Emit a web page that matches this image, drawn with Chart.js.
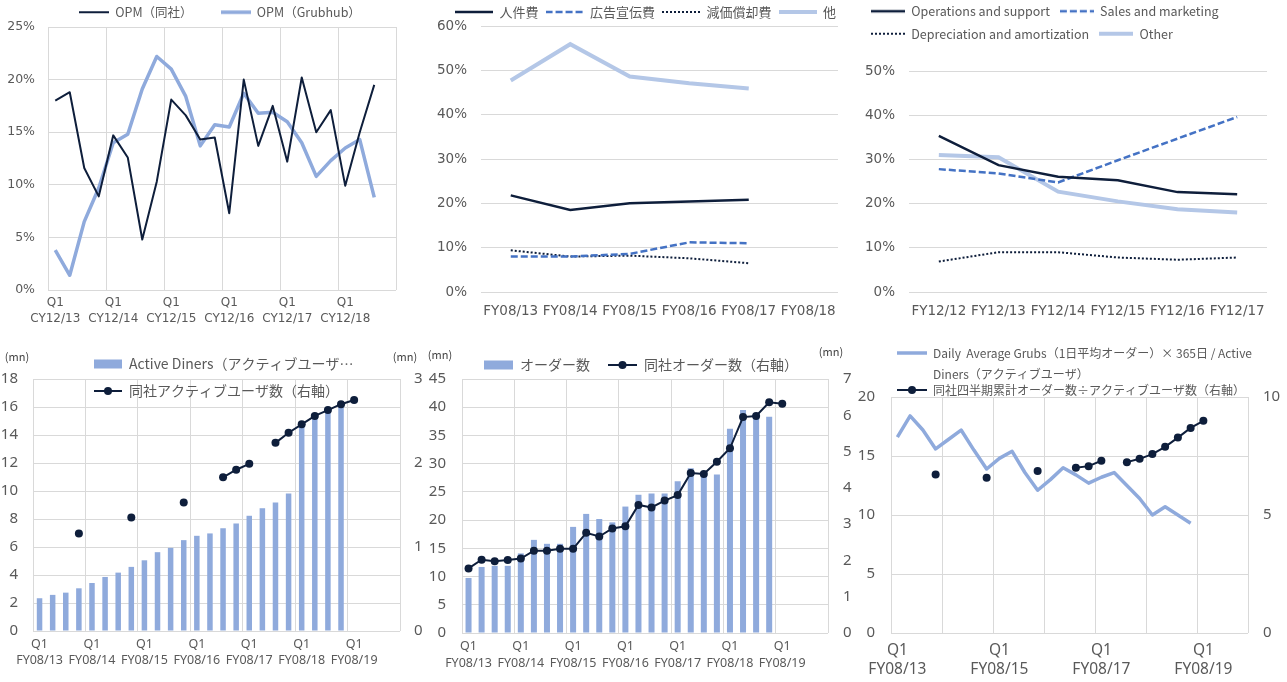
<!DOCTYPE html>
<html>
<head>
<meta charset="utf-8">
<script src="https://cdn.jsdelivr.net/npm/chart.js@4.4.1/dist/chart.umd.min.js"></script>
<style>
  html, body { margin: 0; padding: 0; background: #fff; }
  body { width: 1287px; height: 682px; position: relative; overflow: hidden; }
  canvas { position: absolute; }
</style>
</head>
<body>
<canvas id="c1" width="420" height="340" style="left:0px;top:0px"></canvas>
<canvas id="c2" width="430" height="340" style="left:420px;top:0px"></canvas>
<canvas id="c3" width="437" height="340" style="left:850px;top:0px"></canvas>
<canvas id="c4" width="436" height="342" style="left:0px;top:340px"></canvas>
<canvas id="c5" width="448" height="342" style="left:412px;top:340px"></canvas>
<canvas id="c6" width="459" height="342" style="left:828px;top:340px"></canvas>
<script>
// ---- data ----
const quarters = ['Q1', 'Q2', 'Q3', 'Q4'];
const cyYears = ['CY12/13', 'CY12/14', 'CY12/15', 'CY12/16', 'CY12/17', 'CY12/18'];
const fyYears = ['FY08/13', 'FY08/14', 'FY08/15', 'FY08/16', 'FY08/17', 'FY08/18', 'FY08/19'];
const cyQuarters = cyYears.flatMap(y => quarters.map(q => q + ' ' + y));
const fyQuarters = fyYears.flatMap(y => quarters.map(q => q + ' ' + y));

// OPM (%)
const opmCompany = [18.0, 18.8, 11.6, 8.9, 14.7, 12.6, 4.8, 10.3, 18.1, 16.6, 14.3, 14.5,
  7.3, 20.0, 13.7, 17.5, 12.2, 20.2, 15.0, 17.1, 9.9, 15.0, 19.5];
const opmGrubhub = [3.8, 1.4, 6.5, 9.7, 14.0, 14.8, 19.1, 22.2, 21.0, 18.4, 13.7, 15.7,
  15.5, 18.7, 16.8, 16.9, 16.0, 14.0, 10.8, 12.3, 13.5, 14.3, 8.8];

// company cost ratios (%)
const costYears = ['FY08/13', 'FY08/14', 'FY08/15', 'FY08/16', 'FY08/17', 'FY08/18'];
const personnel = [21.8, 18.5, 20.0, 20.4, 20.8];
const advertising = [8.0, 8.0, 8.6, 11.2, 11.0];
const depreciation = [9.4, 8.0, 8.2, 7.6, 6.5];
const otherCost = [47.7, 55.9, 48.6, 47.1, 45.9];

// Grubhub cost ratios (%)
const ghYears = ['FY12/12', 'FY12/13', 'FY12/14', 'FY12/15', 'FY12/16', 'FY12/17'];
const ghOperations = [35.3, 28.7, 26.1, 25.3, 22.6, 22.1];
const ghSales = [27.8, 26.8, 24.8, 29.8, 34.7, 39.6];
const ghDepreciation = [6.9, 9.0, 9.0, 7.8, 7.3, 7.8];
const ghOther = [31.0, 30.5, 22.7, 20.5, 18.7, 18.0];

// users (mn)
const activeDiners = [2.34, 2.58, 2.74, 3.05, 3.43, 3.86, 4.17, 4.58, 5.05, 5.63, 5.94, 6.49,
  6.8, 6.97, 7.34, 7.68, 8.23, 8.77, 9.18, 9.82, 14.6, 15.4, 15.8, 16.3];
const companyUsers = [null, null, null, 1.16, null, null, null, 1.35, null, null, null, 1.53,
  null, null, 1.83, 1.92, 1.99, null, 2.24, 2.36, 2.46, 2.56, 2.63, 2.70, 2.75];

// orders (mn)
const ghOrders = [9.75, 11.7, 11.9, 11.9, 14.1, 16.5, 15.8, 15.8, 18.8, 21.1, 20.2, 19.6,
  22.4, 24.5, 24.7, 24.7, 26.9, 29.2, 28.4, 28.1, 36.2, 39.5, 38.7, 38.3];
const companyOrders = [1.78, 2.02, 1.98, 2.01, 2.05, 2.27, 2.27, 2.32, 2.32, 2.76, 2.66, 2.88,
  2.94, 3.53, 3.46, 3.65, 3.80, 4.41, 4.38, 4.72, 5.09, 5.95, 5.98, 6.36, 6.32];

// orders per user
const grubsPerDiner = [16.6, 18.4, 17.2, 15.6, 16.4, 17.2, 15.5, 13.9, 14.8, 15.4, 13.6, 12.1,
  13.0, 14.0, 13.4, 12.7, 13.2, 13.6, 12.5, 11.4, 10.0, 10.7, 10.0, 9.3];
const companyFrequency = [null, null, null, 6.72, null, null, null, 6.58, null, null, null, 6.86,
  null, null, 7.0, 7.07, 7.30, null, 7.24, 7.38, 7.58, 7.89, 8.28, 8.69, 8.99];

// ---- styles ----
const NAVY = '#0e1e3b', STEEL = '#8faadc', PALE = '#b4c7e7', BLUE = '#4472c4';
const GRID = '#d9d9d9', TEXT = '#595959';
const TOPFONT = 'DejaVu Sans', BOTFONT = 'Noto Sans', LEGFONT = 'Noto Sans CJK JP';

Chart.defaults.color = TEXT;
Chart.defaults.animation = false;

// legend swatches (Excel style)
function swatch(w, draw) {
  const c = document.createElement('canvas');
  c.width = w; c.height = 14;
  draw(c.getContext('2d'), w, 7);
  return c;
}
function lineSwatch(w, color, lw, dash) {
  return swatch(w, (g, w, cy) => {
    g.strokeStyle = color; g.lineWidth = lw; g.setLineDash(dash || []);
    g.beginPath(); g.moveTo(0, cy); g.lineTo(w, cy); g.stroke();
  });
}
function barSwatch(w, h, color) {
  return swatch(w, (g, w, cy) => { g.fillStyle = color; g.fillRect(0, cy - h / 2, w, h); });
}
function dotSwatch(w, color, lw, r) {
  return swatch(w, (g, w, cy) => {
    g.strokeStyle = color; g.lineWidth = lw;
    g.beginPath(); g.moveTo(0, cy); g.lineTo(w, cy); g.stroke();
    g.fillStyle = color; g.beginPath(); g.arc(w / 2, cy, r, 0, Math.PI * 2); g.fill();
  });
}

// move the legend where Excel had it (it may overlap the plot)
Chart.register({
  id: 'legendPlace',
  afterLayout(chart, args, o) {
    const lg = chart.legend;
    if (!lg || o.top === undefined) return;
    lg.left = o.left; lg.right = o.right || chart.width + 40; lg.width = lg.right - lg.left;
    lg.top = o.top; lg.bottom = o.top + 120; lg.height = 120;
  }
});
// "(mn)" unit captions over the value axes
Chart.register({
  id: 'unitLabels',
  afterDraw(chart, args, o) {
    if (!o.items) return;
    const ctx = chart.ctx, a = chart.chartArea;
    ctx.save();
    ctx.font = '11px "Noto Sans CJK JP"';
    ctx.fillStyle = '#404040';
    ctx.textAlign = 'center';
    ctx.textBaseline = 'middle';
    o.items.forEach(it => ctx.fillText(it.text, (it.side === 'left' ? a.left : a.right) + it.dx, a.top + it.dy));
    ctx.restore();
  }
});

function legend(o) {
  return {
    display: true, position: 'top', align: 'start', maxHeight: 1,
    labels: {
      usePointStyle: true, pointStyleWidth: o.box, padding: o.padding, color: TEXT,
      font: { family: LEGFONT, size: o.size, lineHeight: o.lineHeight || 1.2 },
      sort: (a, b) => a.datasetIndex - b.datasetIndex,
      generateLabels(chart) {
        const items = Chart.defaults.plugins.legend.labels.generateLabels(chart);
        items.forEach(it => { it.pointStyle = o.icons[it.datasetIndex]; });
        return items;
      }
    }
  };
}

function xQuarter(o) {
  return {
    type: 'category', offset: true,
    afterFit: s => { s.height = o.height; },
    border: { display: false },
    grid: {
      offset: true, drawTicks: false,
      color: c => (c.index === undefined || c.index % o.gridEvery === 0) ? GRID : 'rgba(0,0,0,0)'
    },
    ticks: {
      autoSkip: false, maxRotation: 0, color: TEXT, padding: o.padding,
      font: { family: o.family, size: o.size, lineHeight: o.lineHeight },
      callback(v, i) { return i % o.every === 0 ? this.getLabelForValue(v).split(' ') : ''; }
    }
  };
}

function xYear(o) {
  return {
    type: 'category', offset: true,
    afterFit: s => { s.height = o.height; },
    border: { display: false },
    grid: { display: false, drawTicks: false },
    ticks: {
      autoSkip: false, maxRotation: 0, color: TEXT, padding: o.padding,
      font: { family: TOPFONT, size: o.size, lineHeight: o.lineHeight }
    }
  };
}

function yAxis(o) {
  return {
    type: 'linear', position: o.position || 'left', min: o.min, max: o.max,
    afterFit: s => { s.width = o.width; },
    border: { display: false },
    grid: o.grid === false ? { display: false, drawTicks: false } : { color: GRID, drawTicks: false },
    ticks: {
      stepSize: o.step, color: TEXT, padding: o.padding,
      font: { family: o.family, size: o.size },
      callback: v => o.pct ? v + '%' : v
    }
  };
}

function base(o) {
  return {
    responsive: false, devicePixelRatio: 1, animation: false,
    layout: { padding: o.padding },
    plugins: {
      legend: o.legend, tooltip: { enabled: false },
      legendPlace: o.place, unitLabels: o.units || {}
    },
    scales: o.scales
  };
}

// 1. OPM comparison
const ic1 = [lineSwatch(30, NAVY, 2), lineSwatch(30, STEEL, 3.5)];
new Chart(document.getElementById('c1'), {
  type: 'line',
  data: {
    labels: cyQuarters,
    datasets: [
      { label: 'OPM（同社）', data: opmCompany, borderColor: NAVY, borderWidth: 2, pointRadius: 0, borderJoinStyle: 'round' },
      { label: 'OPM（Grubhub）', data: opmGrubhub, borderColor: STEEL, borderWidth: 3.5, pointRadius: 0, borderJoinStyle: 'round' }
    ]
  },
  options: base({
    padding: { top: 26, right: 24, left: 0, bottom: 0 },
    legend: legend({ box: 30, padding: 28, size: 12.5, icons: ic1 }),
    place: { left: 51, top: -22 },
    scales: {
      x: xQuarter({ height: 50, every: 4, gridEvery: 4, family: TOPFONT, size: 12, lineHeight: '16px', padding: 5 }),
      y: yAxis({ width: 48, min: 0, max: 25, step: 5, pct: true, family: TOPFONT, size: 12.5, padding: 13 })
    }
  })
});

// 2. company cost ratios
const ic2 = [lineSwatch(38, NAVY, 2.5), lineSwatch(38, BLUE, 2.5, [7, 3]), lineSwatch(38, NAVY, 2, [2, 2]), lineSwatch(38, PALE, 4)];
new Chart(document.getElementById('c2'), {
  type: 'line',
  data: {
    labels: costYears,
    datasets: [
      { label: '人件費', data: personnel, borderColor: NAVY, borderWidth: 2.5, pointRadius: 0 },
      { label: '広告宣伝費', data: advertising, borderColor: BLUE, borderWidth: 2.5, borderDash: [7, 3], pointRadius: 0 },
      { label: '減価償却費', data: depreciation, borderColor: NAVY, borderWidth: 2, borderDash: [2, 2], pointRadius: 0 },
      { label: '他', data: otherCost, borderColor: PALE, borderWidth: 4, pointRadius: 0 }
    ]
  },
  options: base({
    padding: { top: 25, right: 12, left: 0, bottom: 0 },
    legend: legend({ box: 38, padding: 7, size: 13, icons: ic2 }),
    place: { left: 28, top: -1.5 },
    scales: {
      x: xYear({ height: 48, size: 13.5, lineHeight: '16px', padding: 11 }),
      y: yAxis({ width: 61, min: 0, max: 60, step: 10, pct: true, family: TOPFONT, size: 13.5, padding: 14 })
    }
  })
});

// 3. Grubhub cost ratios
const ic3 = [lineSwatch(34, NAVY, 2.5), lineSwatch(34, BLUE, 2.5, [7, 3]), lineSwatch(34, NAVY, 2, [2, 2]), lineSwatch(34, PALE, 4)];
new Chart(document.getElementById('c3'), {
  type: 'line',
  data: {
    labels: ghYears,
    datasets: [
      { label: 'Operations and support', data: ghOperations, borderColor: NAVY, borderWidth: 2.5, pointRadius: 0 },
      { label: 'Sales and marketing', data: ghSales, borderColor: BLUE, borderWidth: 2.5, borderDash: [7, 3], pointRadius: 0 },
      { label: 'Depreciation and amortization', data: ghDepreciation, borderColor: NAVY, borderWidth: 2, borderDash: [2, 2], pointRadius: 0 },
      { label: 'Other', data: ghOther, borderColor: PALE, borderWidth: 4, pointRadius: 0 }
    ]
  },
  options: base({
    padding: { top: 70, right: 20, left: 0, bottom: 0 },
    legend: legend({ box: 34, padding: 10, size: 12.5, icons: ic3 }),
    place: { left: 11, top: -5 },
    scales: {
      x: xYear({ height: 48, size: 13.5, lineHeight: '16px', padding: 11 }),
      y: yAxis({ width: 59, min: 0, max: 50, step: 10, pct: true, family: TOPFONT, size: 13.5, padding: 14 })
    }
  })
});

// 4. active users
const ic4 = [barSwatch(28, 9, STEEL), dotSwatch(28, NAVY, 2, 4)];
new Chart(document.getElementById('c4'), {
  type: 'bar',
  data: {
    labels: fyQuarters,
    datasets: [
      { type: 'bar', label: 'Active Diners（アクティブユーザ…', data: activeDiners, backgroundColor: STEEL,
        categoryPercentage: 1, barPercentage: 0.42, order: 2 },
      { type: 'line', label: '同社アクティブユーザ数（右軸）', data: companyUsers, yAxisID: 'y2', borderColor: NAVY,
        borderWidth: 2, pointRadius: 4, pointBackgroundColor: NAVY, pointBorderWidth: 0, spanGaps: false, order: 1 }
    ]
  },
  options: base({
    padding: { top: 38, right: 0, left: 0, bottom: 0 },
    legend: legend({ box: 28, padding: 13, size: 14, icons: ic4 }),
    place: { left: 81, top: 4 },
    units: { items: [{ text: '(mn)', side: 'left', dx: -16, dy: -22 }, { text: '(mn)', side: 'right', dx: 5, dy: -22 }] },
    scales: {
      x: xQuarter({ height: 51, every: 4, gridEvery: 4, family: BOTFONT, size: 12.5, lineHeight: '16px', padding: 5 }),
      y: yAxis({ width: 33, min: 0, max: 18, step: 2, family: BOTFONT, size: 15, padding: 15 }),
      y2: yAxis({ position: 'right', width: 36, min: 0, max: 3, step: 1, grid: false, family: BOTFONT, size: 15, padding: 14 })
    }
  })
});

// 5. orders
const ic5 = [barSwatch(29, 9, STEEL), dotSwatch(29, NAVY, 2, 4)];
new Chart(document.getElementById('c5'), {
  type: 'bar',
  data: {
    labels: fyQuarters,
    datasets: [
      { type: 'bar', label: 'オーダー数', data: ghOrders, backgroundColor: STEEL,
        categoryPercentage: 1, barPercentage: 0.46, order: 2 },
      { type: 'line', label: '同社オーダー数（右軸）', data: companyOrders, yAxisID: 'y2', borderColor: NAVY,
        borderWidth: 2, pointRadius: 4, pointBackgroundColor: NAVY, pointBorderWidth: 0, order: 1 }
    ]
  },
  options: base({
    padding: { top: 38, right: 0, left: 0, bottom: 0 },
    legend: legend({ box: 29, padding: 18, size: 14, icons: ic5 }),
    place: { left: 54, top: 0 },
    units: { items: [{ text: '(mn)', side: 'left', dx: -22, dy: -24 }, { text: '(mn)', side: 'right', dx: 3, dy: -27 }] },
    scales: {
      x: xQuarter({ height: 49, every: 4, gridEvery: 4, family: BOTFONT, size: 12.5, lineHeight: '17px', padding: 4.5 }),
      y: yAxis({ width: 50, min: 0, max: 45, step: 5, family: BOTFONT, size: 15, padding: 16 }),
      y2: yAxis({ position: 'right', width: 32, min: 0, max: 7, step: 1, grid: false, family: BOTFONT, size: 15, padding: 15 })
    }
  })
});

// 6. orders per user
const ic6 = [lineSwatch(30, STEEL, 3.5), dotSwatch(30, NAVY, 2, 4)];
new Chart(document.getElementById('c6'), {
  type: 'line',
  data: {
    labels: fyQuarters,
    datasets: [
      { label: ['Daily  Average Grubs（1日平均オーダー）× 365日 / Active', 'Diners（アクティブユーザ）'], data: grubsPerDiner,
        borderColor: STEEL, borderWidth: 3.5, pointRadius: 0, borderJoinStyle: 'round', order: 2 },
      { label: '同社四半期累計オーダー数÷アクティブユーザ数（右軸）', data: companyFrequency, yAxisID: 'y2', borderColor: NAVY,
        borderWidth: 2, pointRadius: 4, pointBackgroundColor: NAVY, pointBorderWidth: 0, spanGaps: false, order: 1 }
    ]
  },
  options: base({
    padding: { top: 56, right: 0, left: 0, bottom: 0 },
    legend: legend({ box: 30, padding: 25, size: 12, lineHeight: '21px', icons: ic6 }),
    place: { left: 44, top: -18 },
    scales: {
      x: xQuarter({ height: 49, every: 8, gridEvery: 4, family: BOTFONT, size: 15.5, lineHeight: '19px', padding: 8.5 }),
      y: yAxis({ width: 63, min: 0, max: 20, step: 5, family: BOTFONT, size: 15, padding: 16 }),
      y2: yAxis({ position: 'right', width: 39, min: 0, max: 10, step: 5, grid: false, family: BOTFONT, size: 15, padding: 15 })
    }
  })
});
</script>
</body>
</html>
